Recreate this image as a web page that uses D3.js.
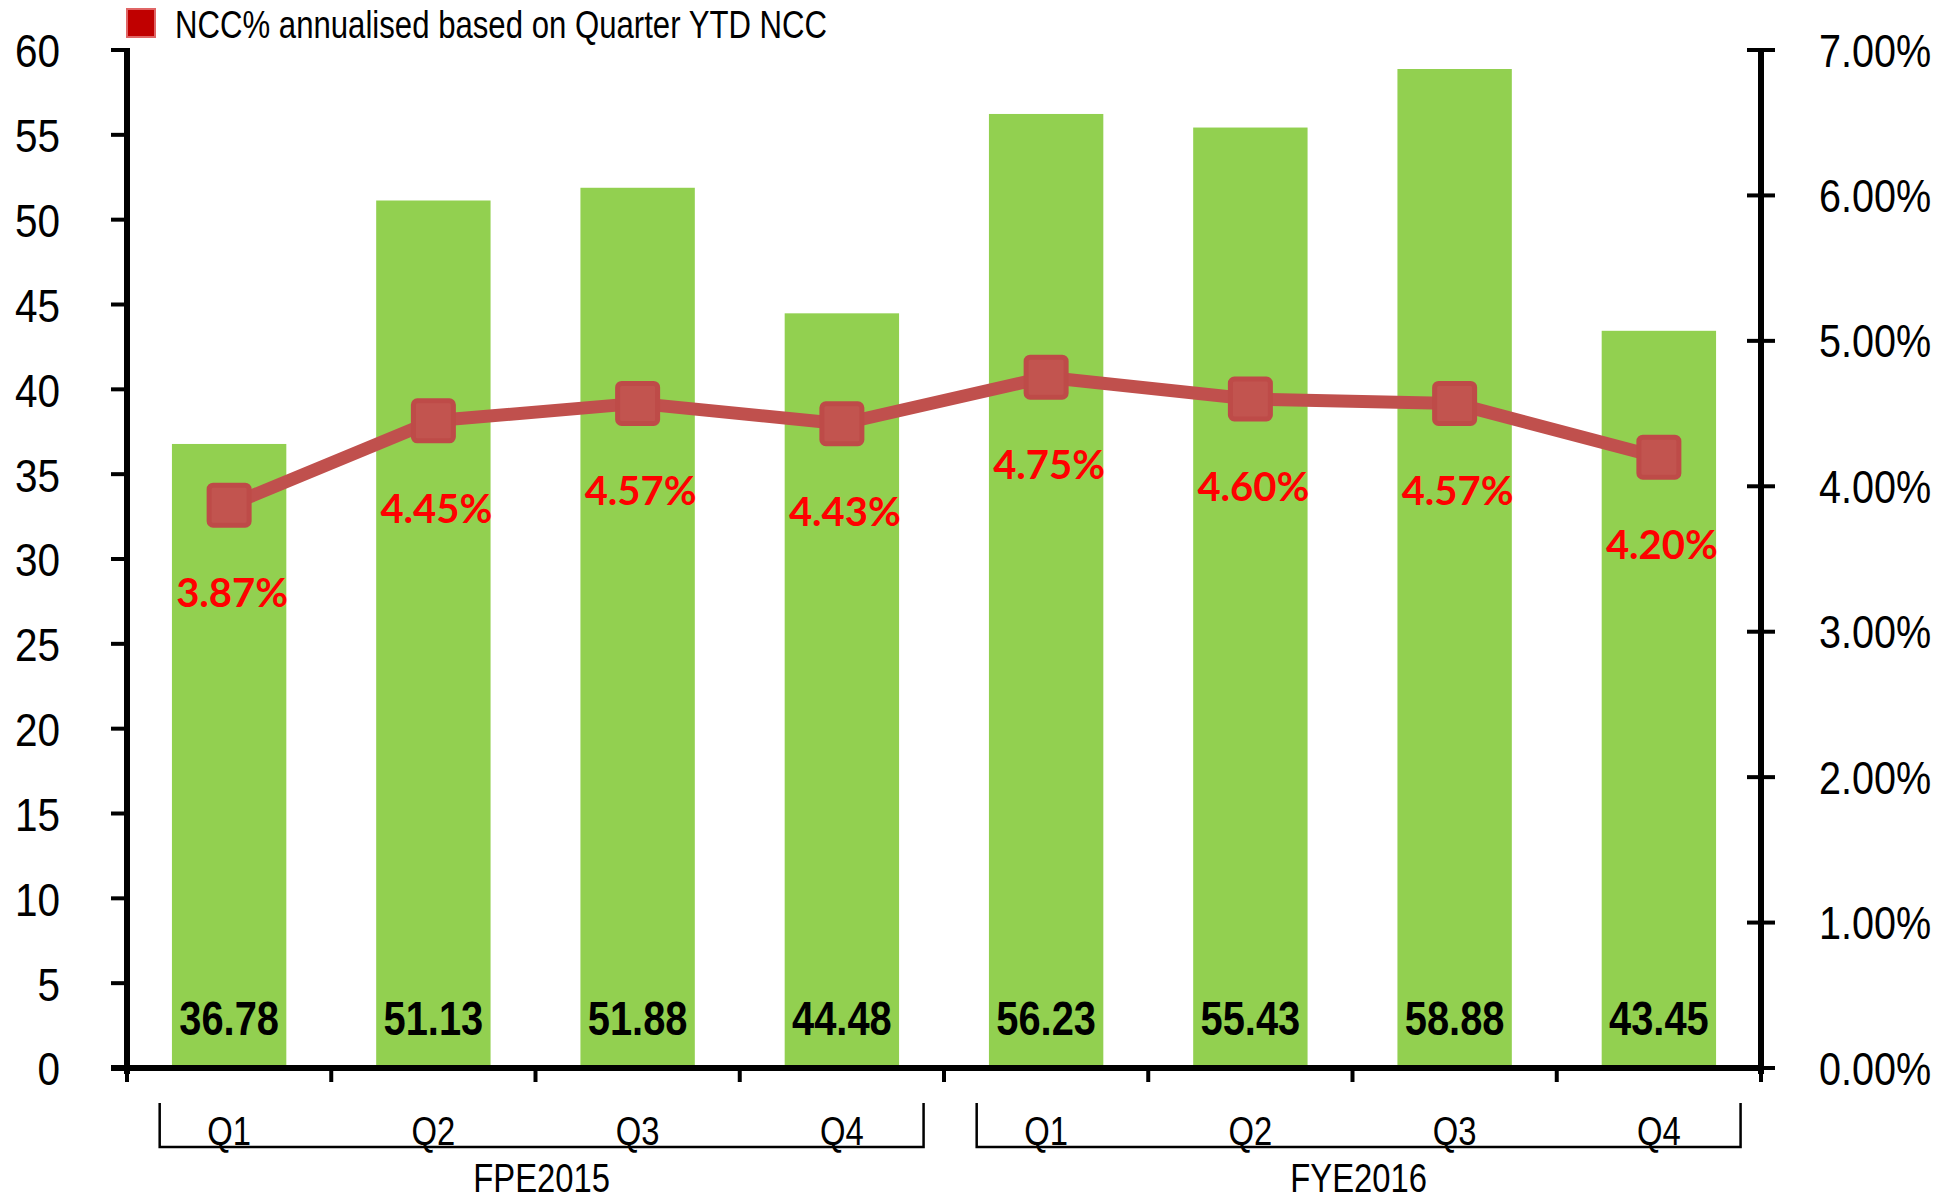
<!DOCTYPE html>
<html><head><meta charset="utf-8">
<script src="https://cdn.jsdelivr.net/npm/d3@7"></script>
<style>
body{margin:0;background:#fff;}
svg{display:block;}
</style></head><body>
<svg id="c" width="1954" height="1202"></svg>
<script>
const categories = ["Q1","Q2","Q3","Q4","Q1","Q2","Q3","Q4"];
const groups = ["FPE2015","FYE2016"];
const groupOf = [0,0,0,0,1,1,1,1];
const barValues = [36.78,51.13,51.88,44.48,56.23,55.43,58.88,43.45];
const nccPct = [3.87,4.45,4.57,4.43,4.75,4.60,4.57,4.20];
const leftTicks = [0,5,10,15,20,25,30,35,40,45,50,55,60];
const rightTicks = [0,1,2,3,4,5,6,7];
const legendLabel = "NCC% annualised based on Quarter YTD NCC";

const svg = d3.select("#c");
const L = 127, R = 1761, T = 50, B = 1068;
const idx = d3.range(categories.length);
const x = d3.scaleBand().domain(idx).range([L, R]).paddingInner(0.44).paddingOuter(0.22);
const yL = d3.scaleLinear().domain([0, 60]).range([B, T]);
const yR = d3.scaleLinear().domain([0, 7]).range([B, T]);
const step = x.step();
const FONT = "'Liberation Sans Narrow','Arial Narrow','Liberation Sans',Arial,sans-serif";
const SX = 0.83; // condense to mimic a narrow face

function narrowText(sel, fx, fy, sx) {
  sel.attr("transform", (d, i) => `translate(${fx(d, i)},${fy(d, i)}) scale(${sx},1)`)
     .attr("x", 0).attr("y", 0).style("font-family", FONT);
  return sel;
}

// bars
svg.append("g").selectAll("rect").data(idx).join("rect")
  .attr("x", i => x(i)).attr("width", x.bandwidth())
  .attr("y", i => yL(barValues[i])).attr("height", i => B - yL(barValues[i]))
  .attr("fill", "#92D050");

// bar labels
narrowText(svg.append("g").selectAll("text").data(idx).join("text"),
  i => x(i) + x.bandwidth()/2, () => B - 50, SX)
  .attr("dy", "0.35em").attr("text-anchor", "middle")
  .style("font-weight", "bold").style("font-size", "48px")
  .attr("fill", "#000").text(i => barValues[i].toFixed(2));

// left axis
const gL = svg.append("g").attr("transform", `translate(${L},0)`);
gL.append("line").attr("x1",0).attr("x2",0).attr("y1",T-2).attr("y2",B+6).attr("stroke","#000").attr("stroke-width",6);
gL.selectAll("line.t").data(leftTicks).join("line").attr("class","t")
  .attr("x1",-16).attr("x2",0).attr("y1",d=>yL(d)).attr("y2",d=>yL(d)).attr("stroke","#000").attr("stroke-width",4);
narrowText(gL.selectAll("text").data(leftTicks).join("text"), () => -67, d => yL(d), 0.88)
  .attr("dy","0.38em").attr("text-anchor","end")
  .style("font-size","46px").attr("fill","#000").text(d=>d);

// right axis
const gR = svg.append("g").attr("transform", `translate(${R},0)`);
gR.append("line").attr("x1",0).attr("x2",0).attr("y1",T-2).attr("y2",B+6).attr("stroke","#000").attr("stroke-width",6);
gR.selectAll("line.t").data(rightTicks).join("line").attr("class","t")
  .attr("x1",-14).attr("x2",14).attr("y1",d=>yR(d)).attr("y2",d=>yR(d)).attr("stroke","#000").attr("stroke-width",4);
narrowText(gR.selectAll("text").data(rightTicks).join("text"), () => 58, d => yR(d), 0.86)
  .attr("dy","0.36em").attr("text-anchor","start")
  .style("font-size","46px").attr("fill","#000").text(d=>d.toFixed(2)+"%");

// x baseline + ticks
svg.append("line").attr("x1",L-16).attr("x2",R).attr("y1",B).attr("y2",B).attr("stroke","#000").attr("stroke-width",6);
const bounds = d3.range(categories.length + 1).map(k => L + k*step);
svg.append("g").selectAll("line").data(bounds).join("line")
  .attr("x1",d=>d).attr("x2",d=>d).attr("y1",B).attr("y2",B+14).attr("stroke","#000").attr("stroke-width",4);

// category labels
narrowText(svg.append("g").selectAll("text").data(idx).join("text"),
  i => x(i) + x.bandwidth()/2, () => 1145, 0.82)
  .attr("text-anchor","middle")
  .style("font-size","40px").attr("fill","#000").text(i => categories[i]);

// group brackets
const gb = svg.append("g");
groups.forEach((g, gi) => {
  const members = idx.filter(i => groupOf[i] === gi);
  const x0 = L + d3.min(members)*step + step*0.16;
  const x1 = L + (d3.max(members)+1)*step - step*0.10;
  gb.append("path").attr("d", `M${x0},1103V1147H${x1}V1103`).attr("fill","none").attr("stroke","#000").attr("stroke-width",2.5);
  gb.append("text").attr("transform", `translate(${(x0+x1)/2},1192) scale(0.82,1)`)
    .attr("text-anchor","middle")
    .style("font-family",FONT).style("font-size","40px").attr("fill","#000").text(g);
});

// line series
const cx = i => x(i) + x.bandwidth()/2;
const line = d3.line().x(i => cx(i)).y(i => yR(nccPct[i]));
svg.append("path").datum(idx).attr("d", line).attr("fill","none").attr("stroke","#C0504D").attr("stroke-width",13).attr("stroke-linejoin","round");
svg.append("g").selectAll("rect").data(idx).join("rect")
  .attr("x", i => cx(i)-20).attr("y", i => yR(nccPct[i])-20).attr("width",40).attr("height",40).attr("rx",4)
  .attr("fill","#C2544F").attr("stroke","#BE4B48").attr("stroke-width",5);

// line labels
svg.append("g").selectAll("text").data(idx).join("text")
  .attr("x", i => cx(i)+3).attr("y", i => yR(nccPct[i]) + 88).attr("dy","0.35em").attr("text-anchor","middle")
  .style("font-family","Lato,'Open Sans',sans-serif").style("font-weight","bold").style("font-size","40px")
  .attr("fill","#FF0000").text(i => nccPct[i].toFixed(2) + "%");

// legend
const lg = svg.append("g");
lg.append("rect").attr("x",127).attr("y",9).attr("width",28).attr("height",28).attr("fill","#C00000").attr("stroke","#E06666").attr("stroke-width",2);
lg.append("text").attr("transform","translate(175,24) scale(0.82,1)").attr("dy","0.36em")
  .style("font-family",FONT).style("font-size","38px").attr("fill","#000").text(legendLabel);
</script></body></html>
